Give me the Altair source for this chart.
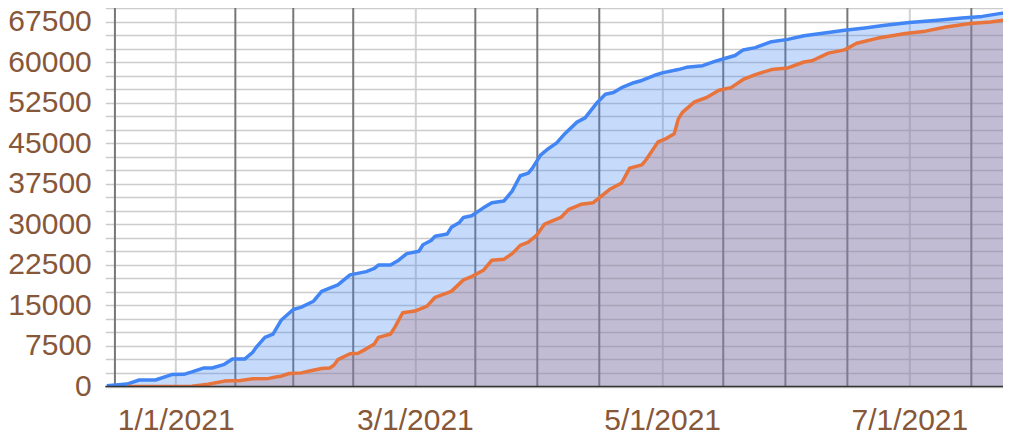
import altair as alt
import pandas as pd

# ---- data ----
blue_dates = [
    "2020-12-15", "2020-12-20", "2020-12-23", "2020-12-27", "2020-12-31",
    "2021-01-03", "2021-01-05", "2021-01-08", "2021-01-10", "2021-01-13",
    "2021-01-15", "2021-01-18", "2021-01-20", "2021-01-21", "2021-01-23",
    "2021-01-25", "2021-01-27", "2021-01-30", "2021-02-01", "2021-02-04",
    "2021-02-06", "2021-02-08", "2021-02-10", "2021-02-13", "2021-02-17",
    "2021-02-19", "2021-02-20", "2021-02-23", "2021-02-25", "2021-02-27",
    "2021-03-02", "2021-03-03", "2021-03-05", "2021-03-06", "2021-03-09",
    "2021-03-10", "2021-03-12", "2021-03-13", "2021-03-15", "2021-03-18",
    "2021-03-20", "2021-03-23", "2021-03-25", "2021-03-27", "2021-03-29",
    "2021-03-30", "2021-04-01", "2021-04-03", "2021-04-05", "2021-04-07",
    "2021-04-10", "2021-04-12", "2021-04-15", "2021-04-17", "2021-04-19",
    "2021-04-21", "2021-04-24", "2021-04-26", "2021-04-29", "2021-05-01",
    "2021-05-05", "2021-05-07", "2021-05-11", "2021-05-14", "2021-05-16",
    "2021-05-19", "2021-05-21", "2021-05-24", "2021-05-28", "2021-06-01",
    "2021-06-05", "2021-06-11", "2021-06-15", "2021-06-20", "2021-06-25",
    "2021-07-01", "2021-07-08", "2021-07-14", "2021-07-19", "2021-07-24",
    "2021-07-26",
]
blue_values = [
    150, 450, 1200, 1200, 2200,
    2250, 2700, 3430, 3430, 4100,
    5070, 5070, 6340, 7380, 9080,
    9700, 12250, 14250, 14670, 15770,
    17590, 18190, 18810, 20640, 21240,
    21840, 22460, 22460, 23370, 24570,
    25010, 26210, 27010, 27800, 28220,
    29440, 30350, 31270, 31570, 33090,
    34000, 34310, 36130, 38970, 39470,
    40380, 42800, 44020, 45060, 46760,
    48890, 49670, 52540, 54050, 54360,
    55270, 56180, 56600, 57510, 58000,
    58610, 59030, 59340, 60120, 60560,
    61210, 62250, 62670, 63770, 64200,
    64860, 65480, 65900, 66320, 66810,
    67300, 67720, 68140, 68450, 69050,
    69180,
]

orange_dates = [
    "2020-12-20", "2021-01-05", "2021-01-09", "2021-01-13", "2021-01-17",
    "2021-01-20", "2021-01-24", "2021-01-26", "2021-01-27", "2021-01-29",
    "2021-02-01", "2021-02-03", "2021-02-06", "2021-02-08", "2021-02-09",
    "2021-02-10", "2021-02-13", "2021-02-15", "2021-02-17", "2021-02-19",
    "2021-02-20", "2021-02-23", "2021-02-24", "2021-02-26", "2021-03-01",
    "2021-03-04", "2021-03-06", "2021-03-10", "2021-03-13", "2021-03-15",
    "2021-03-18", "2021-03-20", "2021-03-23", "2021-03-25", "2021-03-27",
    "2021-03-29", "2021-03-31", "2021-04-02", "2021-04-06", "2021-04-08",
    "2021-04-11", "2021-04-14", "2021-04-16", "2021-04-18", "2021-04-21",
    "2021-04-23", "2021-04-26", "2021-04-27", "2021-04-30", "2021-05-02",
    "2021-05-04", "2021-05-05", "2021-05-06", "2021-05-09", "2021-05-12",
    "2021-05-15", "2021-05-18", "2021-05-21", "2021-05-24", "2021-05-28",
    "2021-06-01", "2021-06-05", "2021-06-07", "2021-06-11", "2021-06-15",
    "2021-06-18", "2021-06-23", "2021-06-30", "2021-07-05", "2021-07-10",
    "2021-07-16", "2021-07-21", "2021-07-26",
]
orange_values = [
    0, 50, 400, 1000, 1130,
    1420, 1500, 1790, 1910, 2410,
    2520, 2880, 3320, 3430, 3920,
    4960, 6050, 6160, 6960, 7880,
    9080, 9700, 10900, 13640, 13950,
    14860, 16500, 17590, 19720, 20330,
    21550, 23370, 23550, 24570, 26100,
    26710, 27930, 30040, 31270, 32780,
    33690, 34000, 35220, 36420, 37640,
    40380, 40980, 41890, 45240, 45850,
    46760, 49490, 50710, 52650, 53450,
    54780, 55270, 56780, 57690, 58610,
    58920, 60010, 60250, 61650, 62250,
    63470, 64390, 65300, 65720, 66500,
    67120, 67410, 67900,
]

label_dates = ["2021-01-01", "2021-03-01", "2021-05-01", "2021-07-01"]
dark_grid_dates = [
    "2020-12-17T00:00", "2021-01-15T17:00", "2021-01-30T00:00",
    "2021-02-13T19:00", "2021-03-15T22:00", "2021-03-31T05:00",
    "2021-04-15T12:00", "2021-05-16T02:00", "2021-05-31T10:00",
    "2021-06-15T17:00", "2021-07-16T07:00",
]
y_grid_values = list(range(0, 70001, 2500))
x_domain = ["2020-12-14T15:00", "2021-07-24T02:30"]

BLUE = "#4285F4"
ORANGE = "#E8743B"
LABEL = "#87573A"
FONT = "Liberation Sans"


def dt(s):
    t = pd.Timestamp(s)
    return alt.DateTime(year=t.year, month=t.month, date=t.day,
                        hours=t.hour, minutes=t.minute)


blue = pd.DataFrame({"date": pd.to_datetime(blue_dates), "value": blue_values})
orange = pd.DataFrame({"date": pd.to_datetime(orange_dates), "value": orange_values})
grid = pd.DataFrame({"date": pd.to_datetime(dark_grid_dates)})
base0 = pd.DataFrame({"value": [0]})

x_enc = alt.X(
    "date:T",
    scale=alt.Scale(domain=[dt(x_domain[0]), dt(x_domain[1])]),
    axis=alt.Axis(
        values=[dt(d) for d in label_dates],
        format="%-m/%-d/%Y",
        grid=True, gridColor="#d2d2d2", gridWidth=2,
        domain=False, ticks=False, labelFlush=False,
        labelFont=FONT, labelFontSize=30, labelColor=LABEL,
        labelPadding=19, title=None,
    ),
)
y_enc = alt.Y(
    "value:Q",
    scale=alt.Scale(domain=[0, 70000], nice=False),
    axis=alt.Axis(
        values=y_grid_values,
        labelExpr="datum.value % 7500 === 0 ? datum.label : ''",
        format="d",
        grid=True, gridColor="#cccccc", gridWidth=1.5,
        domain=False, ticks=False, labelOverlap=False,
        labelFont=FONT, labelFontSize=30, labelColor=LABEL,
        labelPadding=14, title=None,
    ),
)

rules = alt.Chart(grid).mark_rule(color="#777777", strokeWidth=2).encode(x=x_enc)
area_o = alt.Chart(orange).mark_area(color=ORANGE, opacity=0.3, clip=True).encode(x=x_enc, y=y_enc)
area_b = alt.Chart(blue).mark_area(color=BLUE, opacity=0.3, clip=True).encode(x=x_enc, y=y_enc)
line_b = alt.Chart(blue).mark_line(color=BLUE, strokeWidth=3.5, strokeJoin="round", clip=True).encode(x=x_enc, y=y_enc)
line_o = alt.Chart(orange).mark_line(color=ORANGE, strokeWidth=3.5, strokeJoin="round", clip=True).encode(x=x_enc, y=y_enc)
baseline = alt.Chart(base0).mark_rule(color="#333333", strokeWidth=1.5).encode(y=y_enc)

chart = alt.layer(rules, area_o, area_b, line_b, line_o, baseline).properties(
    width=897.7,
    height=378.5,
    padding={"left": 97.3, "top": 0, "right": 0, "bottom": 46.5},
    autosize=alt.AutoSizeParams(type="none"),
).configure_view(strokeWidth=0)

chart.save("out.html", embed_options={"renderer": "svg", "actions": False})
